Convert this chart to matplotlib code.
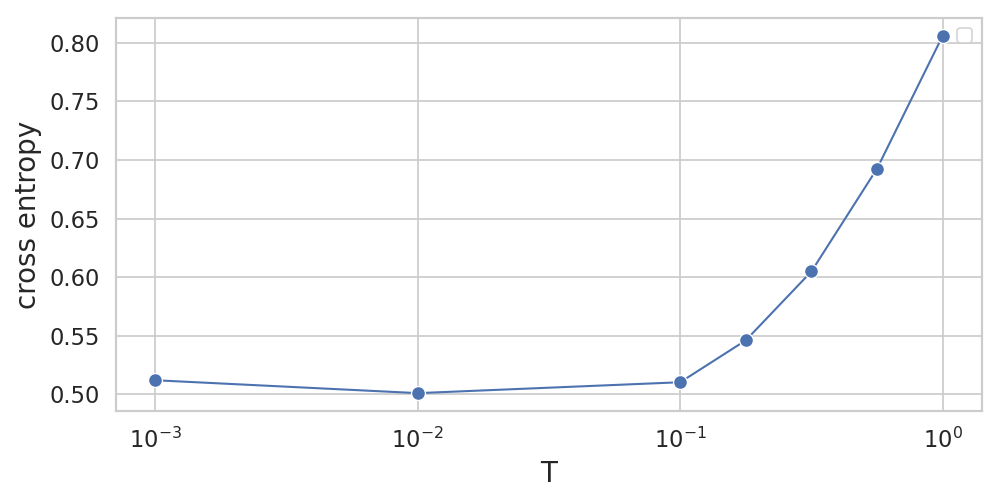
import numpy as np
import matplotlib
matplotlib.use("Agg")
import matplotlib.pyplot as plt
import seaborn as sns

T = [0.001, 0.01, 0.1, 0.1778, 0.3162, 0.5623, 1.0]
cross_entropy = [0.5119, 0.5009, 0.5102, 0.5460, 0.6048, 0.6926, 0.8060]

sns.set_theme(style="whitegrid")

fig, ax = plt.subplots(figsize=(8, 4), dpi=125)
sns.lineplot(x=T, y=cross_entropy, marker="o", markersize=8, linewidth=1.2, ax=ax)
ax.set_xscale("log")
ax.set_xlabel("T", fontsize=16)
ax.set_ylabel("cross entropy", fontsize=16)
ax.tick_params(labelsize=13)
ax.legend(loc="upper right")
fig.subplots_adjust(left=0.116, right=0.982, top=0.964, bottom=0.178)
fig.savefig("out.png", dpi=125)
